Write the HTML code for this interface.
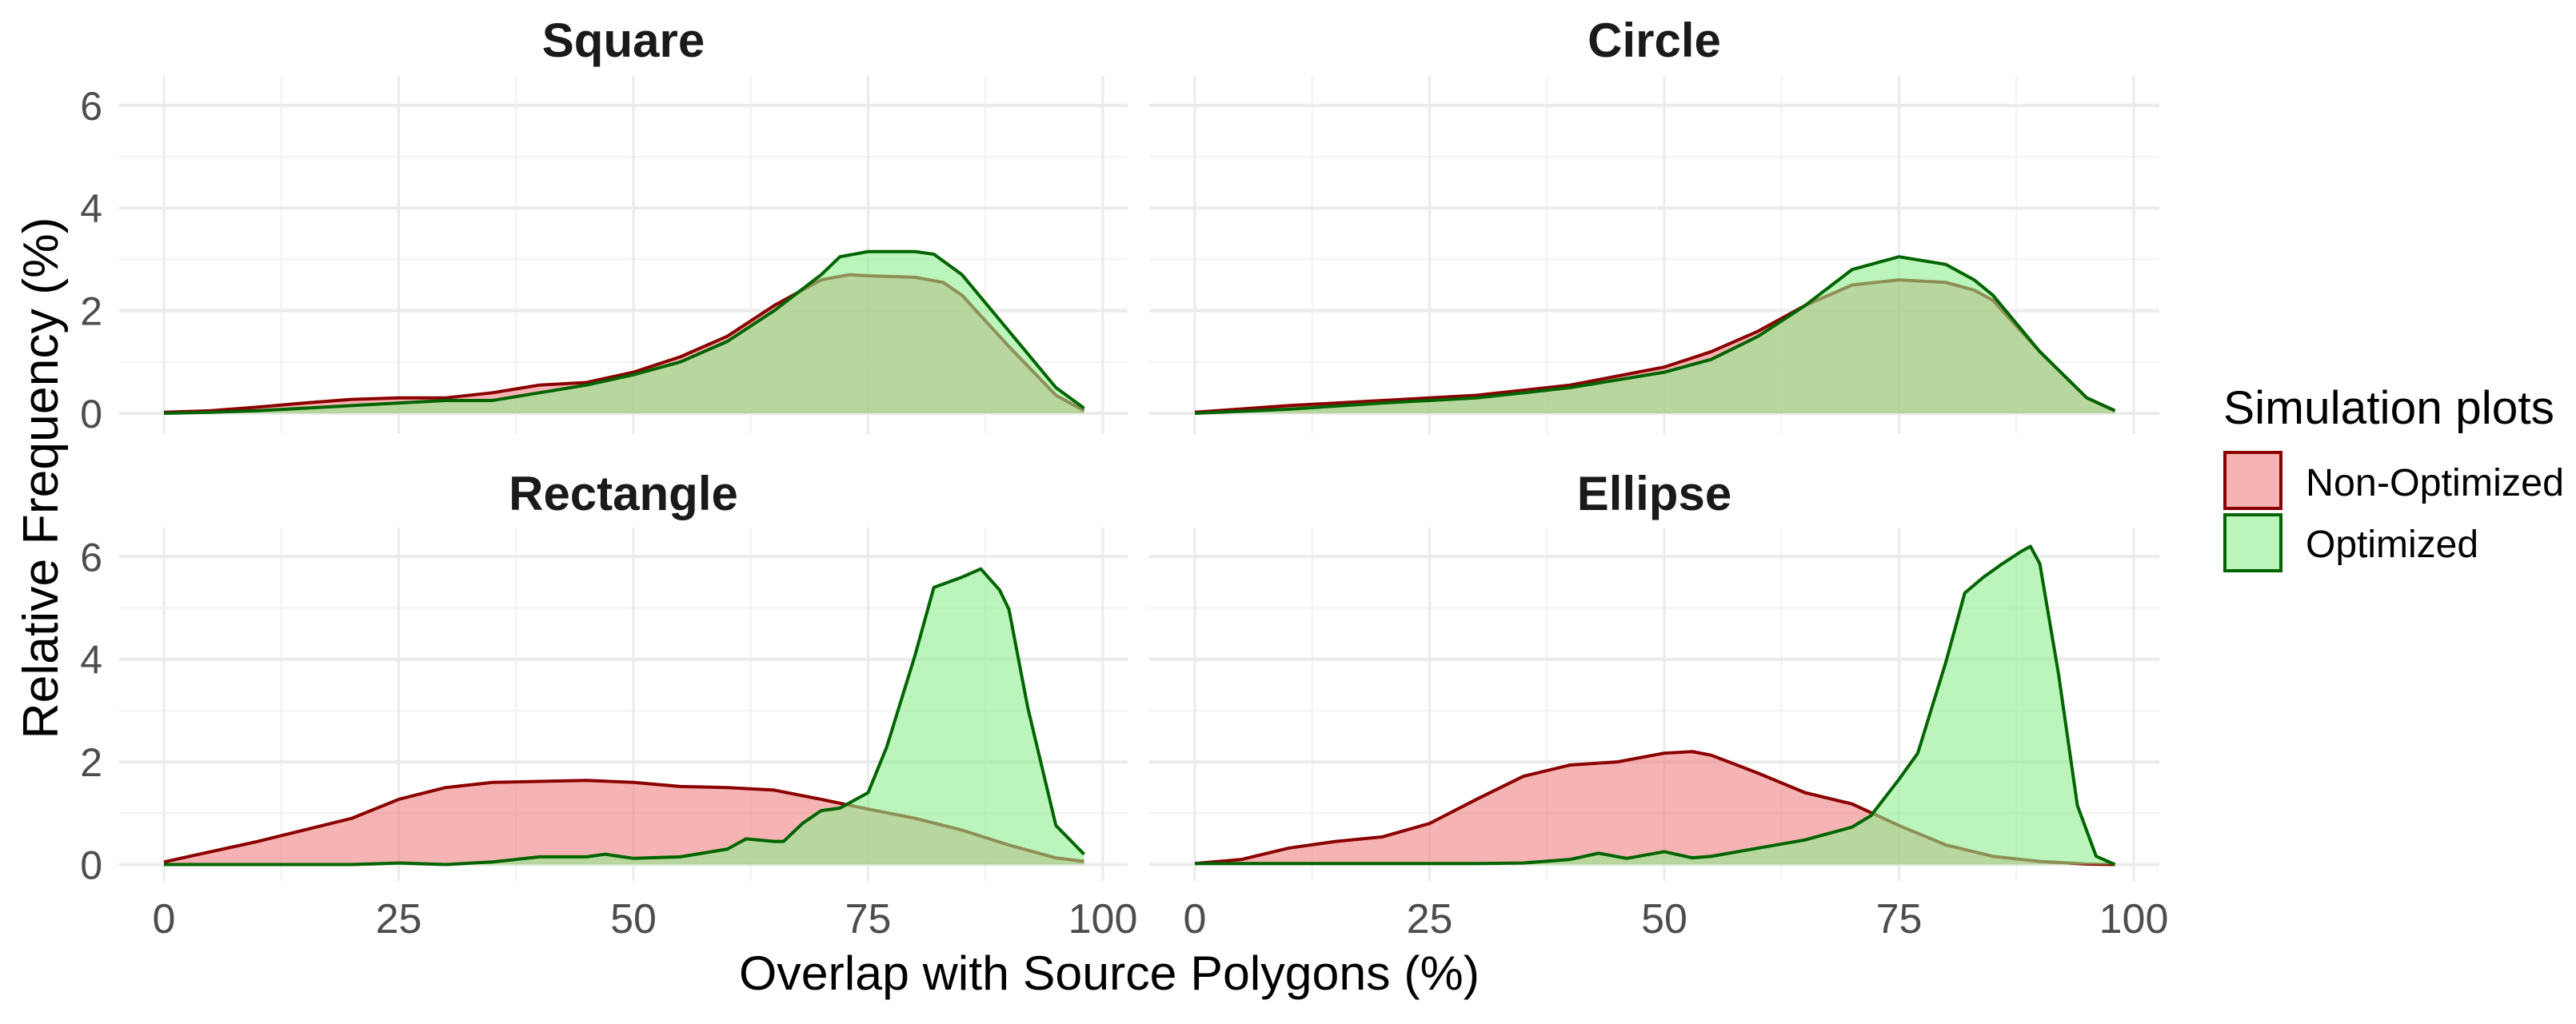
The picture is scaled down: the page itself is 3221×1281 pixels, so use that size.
<!DOCTYPE html>
<html><head><meta charset="utf-8"><style>
html,body{margin:0;padding:0;background:#fff;}
svg{display:block;font-family:"Liberation Sans",Arial,sans-serif;}
</style></head><body>
<svg id="chart" width="3221" height="1281" viewBox="0 0 3221 1281" xmlns="http://www.w3.org/2000/svg">
<rect x="0" y="0" width="3221" height="1281" fill="#fff"/>
<g id="layer"></g>
<text transform="translate(72,598) rotate(-90)" text-anchor="middle" font-size="62" fill="#000" textLength="653" lengthAdjust="spacingAndGlyphs">Relative Frequency (%)</text>
<text x="1387" y="1238" text-anchor="middle" font-size="60" fill="#000" textLength="926" lengthAdjust="spacingAndGlyphs">Overlap with Source Polygons (%)</text>
<g>
<text x="2780" y="530" font-size="58" fill="#000" textLength="414" lengthAdjust="spacingAndGlyphs">Simulation plots</text>
<rect x="2782" y="566" width="70" height="70" fill="rgba(240,128,128,0.6)" stroke="#8B0000" stroke-width="4"/>
<text x="2883" y="620" font-size="48" fill="#000" textLength="323" lengthAdjust="spacingAndGlyphs">Non-Optimized</text>
<rect x="2782" y="644" width="70" height="70" fill="rgba(144,238,144,0.6)" stroke="#006400" stroke-width="4"/>
<text x="2883" y="697" font-size="48" fill="#000">Optimized</text>
</g>
</svg>
<script>
const panelNames = ["Square","Circle","Rectangle","Ellipse"];
const xTicks = [0,25,50,75,100];
const yTicks = [0,2,4,6];
const sqX = [0,5,10,15,20,25,30,35,40,45,50,55,60,65,70,73,75,80,83,85,90,95,98];
const sqRed = [0.02,0.05,0.12,0.2,0.27,0.3,0.3,0.4,0.55,0.6,0.8,1.1,1.5,2.1,2.6,2.7,2.68,2.65,2.55,2.3,1.3,0.35,0.05];
const sqGX = [0,5,10,15,20,25,30,35,40,45,50,55,60,65,70,72,75,80,82,85,90,95,98];
const sqGreen = [0,0.02,0.05,0.1,0.15,0.2,0.25,0.25,0.4,0.55,0.75,1.0,1.4,2.0,2.7,3.05,3.15,3.15,3.1,2.7,1.6,0.5,0.1];
const ciX = [0,10,20,30,40,50,55,60,65,70,75,80,83,85,90,95,98];
const ciRed = [0.02,0.15,0.25,0.35,0.55,0.9,1.2,1.6,2.1,2.5,2.6,2.55,2.4,2.2,1.2,0.3,0.05];
const ciGreen = [0,0.08,0.2,0.3,0.5,0.8,1.05,1.5,2.1,2.8,3.05,2.9,2.6,2.3,1.2,0.3,0.05];
const reX = [0,10,20,25,30,35,40,45,50,55,60,65,70,75,80,85,90,95,98];
const reRed = [0.05,0.45,0.9,1.27,1.5,1.6,1.62,1.64,1.6,1.52,1.5,1.45,1.27,1.08,0.9,0.67,0.38,0.13,0.06];
const reGX = [0,20,25,30,35,40,45,47,50,55,60,62,65,66,68,70,72,75,77,80,82,85,87,89,90,92,95,98];
const reGreen = [0,0,0.03,0,0.05,0.15,0.15,0.2,0.12,0.15,0.3,0.5,0.45,0.45,0.8,1.05,1.1,1.4,2.3,4.08,5.4,5.6,5.76,5.35,4.97,3.06,0.76,0.2];
const elX = [0,5,10,15,20,25,30,35,40,45,50,53,55,60,65,70,75,80,85,90,95,98];
const elRed = [0.02,0.1,0.32,0.45,0.54,0.8,1.27,1.72,1.94,2.0,2.17,2.2,2.13,1.78,1.4,1.18,0.76,0.38,0.16,0.06,0.01,0];
const elGX = [0,10,20,30,35,40,43,46,50,53,55,60,65,70,72,75,77,80,82,84,86,88,89,90,92,94,96,98];
const elGreen = [0.02,0.02,0.02,0.02,0.03,0.1,0.22,0.12,0.25,0.13,0.16,0.32,0.48,0.73,0.95,1.66,2.17,3.95,5.29,5.6,5.86,6.1,6.2,5.86,3.7,1.15,0.16,0];

const NS="http://www.w3.org/2000/svg";
const layer=document.getElementById('layer');
function mk(tag,attrs,parent){const e=document.createElementNS(NS,tag);for(const k in attrs)e.setAttribute(k,attrs[k]);(parent||layer).appendChild(e);return e;}
const panels=[
 {left:149,right:1410,top:95,bottom:543,x0:205,y0:517,col:0,row:0,rx:sqX,red:sqRed,gx:sqGX,green:sqGreen},
 {left:1437,right:2700,top:95,bottom:543,x0:1494,y0:517,col:1,row:0,rx:ciX,red:ciRed,gx:ciX,green:ciGreen},
 {left:149,right:1410,top:660,bottom:1102,x0:205,y0:1081.5,col:0,row:1,rx:reX,red:reRed,gx:reGX,green:reGreen},
 {left:1437,right:2700,top:660,bottom:1102,x0:1494,y0:1081.5,col:1,row:1,rx:elX,red:elRed,gx:elGX,green:elGreen}
];
const xUnit=11.74, yUnit=64.2;
panels.forEach((p,i)=>{
 const g=mk('g',{});
 
 
 const X=v=>p.x0+v*xUnit, Y=v=>p.y0-v*yUnit;
 for(let v=1;v<6;v+=2){const l=mk('line',{x1:p.left,x2:p.right,y1:Y(v),y2:Y(v),stroke:'#F2F2F2','stroke-width':2},g);}
 for(let v=12.5;v<100;v+=25){const l=mk('line',{x1:X(v),x2:X(v),y1:p.top,y2:p.bottom,stroke:'#F2F2F2','stroke-width':2},g);}
 yTicks.forEach(v=>{const l=mk('line',{x1:p.left,x2:p.right,y1:Y(v),y2:Y(v),stroke:'#EBEBEB','stroke-width':4},g);});
 xTicks.forEach(v=>{const l=mk('line',{x1:X(v),x2:X(v),y1:p.top,y2:p.bottom,stroke:'#EBEBEB','stroke-width':3},g);});
 const area=(xs,ys)=>{let d='M'+X(xs[0])+','+Y(0);xs.forEach((x,k)=>d+=' L'+X(x)+','+Y(ys[k]));d+=' L'+X(xs[xs.length-1])+','+Y(0)+' Z';return d;};
 const line=(xs,ys)=>{let d='';xs.forEach((x,k)=>d+=(k?' L':'M')+X(x)+','+Y(ys[k]));return d;};
 const ra=mk('path',{d:area(p.rx,p.red),fill:'rgba(240,128,128,0.6)'},g);
 
 const rl=mk('path',{d:line(p.rx,p.red),fill:'none',stroke:'#8B0000','stroke-width':4,'stroke-linejoin':'round'},g);
 
 const ga=mk('path',{d:area(p.gx,p.green),fill:'rgba(144,238,144,0.6)'},g);
 
 const gl=mk('path',{d:line(p.gx,p.green),fill:'none',stroke:'#006400','stroke-width':4,'stroke-linejoin':'round'},g);
 
 const t=mk('text',{x:(p.left+p.right)/2,y:p.row?638:71,'text-anchor':'middle','font-size':60,'font-weight':'bold',fill:'#1a1a1a'},g);
 
 t.textContent=panelNames[i];
 if(p.col===0){yTicks.forEach(v=>{const tt=mk('text',{x:128,y:Y(v)+18,'text-anchor':'end','font-size':50,fill:'#4D4D4D'},g);tt.textContent=v;});}
 if(p.row===1){xTicks.forEach(v=>{const tt=mk('text',{x:X(v),y:1167,'text-anchor':'middle','font-size':52,fill:'#4D4D4D'},g);tt.textContent=v;});}
});
</script>
</body></html>
